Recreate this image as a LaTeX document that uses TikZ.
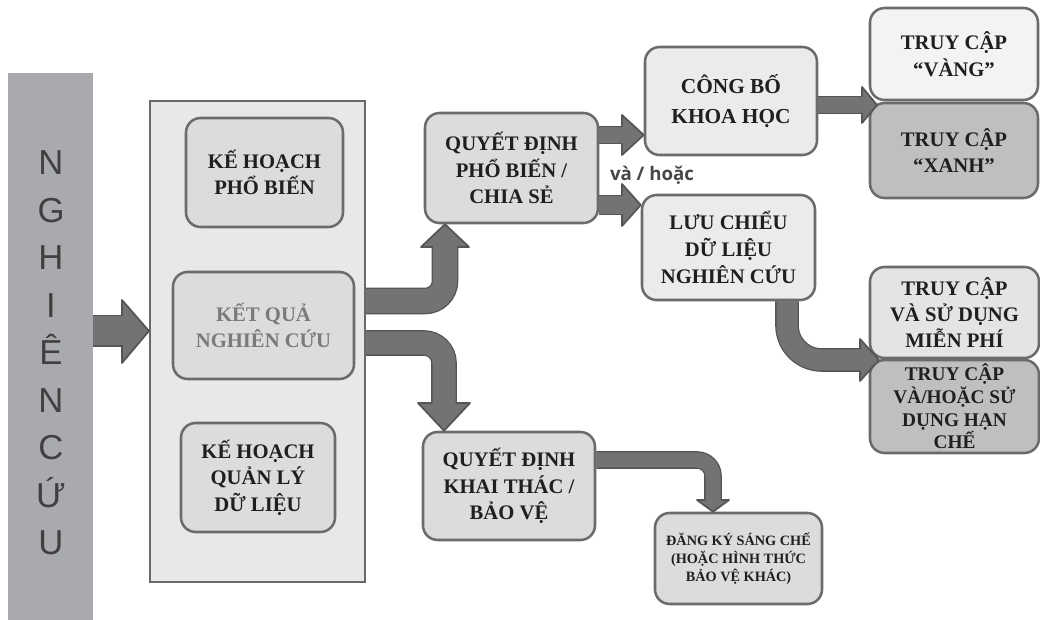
\documentclass[tikz,border=0pt]{standalone}
\usepackage{fontspec}
\setmainfont{Liberation Serif}
\newfontfamily\barfont{Liberation Sans}
\newfontfamily\vhfont{Open Sans}
\usetikzlibrary{calc}
\definecolor{barfill}{HTML}{A9AAAD}
\definecolor{bigfill}{HTML}{E8E8E9}
\definecolor{bigbord}{HTML}{6A6A6A}
\definecolor{bord}{HTML}{6B6B6B}
\definecolor{txt}{HTML}{1F1F1F}
\definecolor{abord}{HTML}{555555}
\definecolor{afill}{HTML}{737373}
\definecolor{fmid}{HTML}{DCDCDC}
\definecolor{flight}{HTML}{EBEBEB}
\definecolor{fvang}{HTML}{F3F3F3}
\definecolor{fdark}{HTML}{BFBFBF}
\definecolor{fmien}{HTML}{E4E4E4}
\newcommand\mybox[7]{\node[#6, minimum width={(#4-#2)*0.75pt}, minimum height={(#5-#3)*0.75pt}] (#1) at ({(#2+#4)/2},{(#3+#5)/2}) {#7};}
\newcommand\blockarrow[4]{%
  \draw[line width={(#1+2.6)*0.75pt}, draw=abord, rounded corners=#2] #3;
  \filldraw[fill=afill, draw=abord, line width=1.3pt, line join=round] #4;
  \draw[line width={#1*0.75pt}, draw=afill, rounded corners=#2] #3;}
\begin{document}
\begin{tikzpicture}[x=0.75pt,y=-0.75pt,
  rbox/.style={draw=bord, line width=1.9pt, rounded corners=11pt, align=center,
    font=\bfseries\fontsize{15.5}{20}\selectfont, text=txt, inner sep=0pt},
  plainbox/.style={draw=bigbord, line width=1.6pt, fill=bigfill, inner sep=0pt},
  barbox/.style={fill=barfill, draw=none, inner sep=0pt}]
\useasboundingbox (0,0) rectangle (1040,620);
\fill[white] (0,0) rectangle (1040,620);
% left bar
\mybox{bar}{8}{73}{93}{620}{barbox}{}
\node[align=center, text=black!75, font=\barfont\fontsize{26}{35.6}\selectfont] (bartext) at (51,353) {N\\G\\H\\I\\Ê\\N\\C\\Ứ\\U};
% big container
\mybox{bigbox}{150}{101}{365}{582}{plainbox}{}
\mybox{kh1}{186}{118}{343}{227}{rbox, fill=fmid}{KẾ HOẠCH\\PHỔ BIẾN}
\mybox{ketqua}{173}{272}{354}{379}{rbox, fill=fmid, text=black!52}{KẾT QUẢ\\NGHIÊN CỨU}
\mybox{kh2}{181}{423}{335}{532}{rbox, fill=fmid}{KẾ HOẠCH\\QUẢN LÝ\\DỮ LIỆU}
% decisions
\mybox{qdpb}{425}{113}{598}{223}{rbox, fill=fmid}{QUYẾT ĐỊNH\\PHỔ BIẾN /\\CHIA SẺ}
\mybox{qdkt}{423}{432}{595}{540}{rbox, fill=fmid}{QUYẾT ĐỊNH\\KHAI THÁC /\\BẢO VỆ}
\mybox{congbo}{645}{47}{817}{155}{rbox, fill=flight, font=\bfseries\fontsize{16}{22}\selectfont}{CÔNG BỐ\\KHOA HỌC}
\mybox{luuchieu}{642}{195}{815}{300}{rbox, fill=flight}{LƯU CHIỂU\\DỮ LIỆU\\NGHIÊN CỨU}
\mybox{vang}{870}{8}{1038}{100}{rbox, fill=fvang}{TRUY CẬP\\“VÀNG”}
\mybox{xanh}{870}{103}{1038}{198}{rbox, fill=fdark}{TRUY CẬP\\“XANH”}
\mybox{mienphi}{870}{267}{1039}{358}{rbox, fill=fmien, font=\bfseries\fontsize{15.5}{19.5}\selectfont}{TRUY CẬP\\VÀ SỬ DỤNG\\MIỄN PHÍ}
\mybox{hanche}{870}{360}{1039}{453}{rbox, fill=fdark, font=\bfseries\fontsize{14.5}{17}\selectfont}{TRUY CẬP\\VÀ/HOẶC SỬ\\DỤNG HẠN\\CHẾ}
\mybox{dangky}{655}{513}{822}{604}{rbox, fill=fmid, font=\bfseries\fontsize{10.7}{13.7}\selectfont}{ĐĂNG KÝ SÁNG CHẾ\\(HOẶC HÌNH THỨC\\BẢO VỆ KHÁC)}
\node[font=\vhfont\bfseries\fontsize{14}{16}\selectfont, text=black!72] (vh) at (652,175) {và / hoặc};
% arrows
\blockarrow{29}{0pt}{(bar.east |- 0,331) -- (125,331)}{(122,300) -- (bigbox.west |- 0,331) -- (122,363) -- cycle}
\blockarrow{24}{15pt}{(bigbox.east |- 0,301) -- (445,301) -- (445,244)}{(421,247) -- (qdpb.south -| 445,0) -- (469,247) -- cycle}
\blockarrow{23}{15pt}{(bigbox.east |- 0,343) -- (444,343) -- (444,406)}{(418,403) -- (qdkt.north -| 444,0) -- (470,403) -- cycle}
\blockarrow{16}{0pt}{(qdpb.east |- 0,135) -- (625,135)}{(622,115) -- (congbo.west |- 0,135) -- (622,155) -- cycle}
\blockarrow{18}{0pt}{(qdpb.east |- 0,205) -- (625,205)}{(622,184) -- (luuchieu.west |- 0,205) -- (622,226) -- cycle}
\blockarrow{16}{0pt}{(congbo.east |- 0,105) -- (865,105)}{(862,87) -- (877,105) -- (862,123) -- cycle}
\blockarrow{21}{26pt}{(luuchieu.south -| 787,0) -- (787,360) -- (863,360)}{(860,339) -- (879,360) -- (860,381) -- cycle}
\blockarrow{15}{12pt}{(qdkt.east |- 0,460) -- (713,460) -- (713,503)}{(697,500) -- (dangky.north -| 713,0) -- (729,500) -- cycle}
\end{tikzpicture}
\end{document}
